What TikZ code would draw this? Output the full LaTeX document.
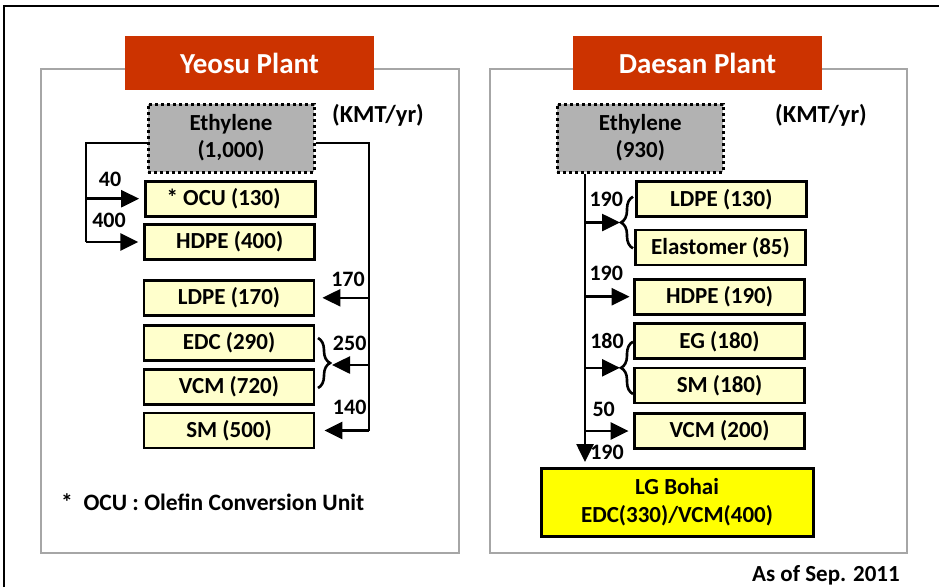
\documentclass[tikz,border=0pt]{standalone}
\usepackage{fontspec}
\setmainfont{Carlito}
\usetikzlibrary{arrows.meta,decorations.pathreplacing}
\definecolor{titlered}{HTML}{CC3300}
\definecolor{ethgray}{HTML}{B2B2B2}
\definecolor{prodyellow}{HTML}{FFFFCC}
\definecolor{bohaiyellow}{HTML}{FFFF00}
\definecolor{panelgray}{HTML}{A6A6A6}
\tikzset{
  flow/.style={line width=2.6pt},
  arr/.style={flow,-{Triangle[length=18pt,width=17pt]}},
  brc/.style={flow,decorate,decoration={brace,amplitude=12pt}},
  panel/.style={draw=panelgray,line width=1.5pt},
  plant/.style={fill=titlered,text=white,minimum width=249pt,minimum height=54pt,
    inner sep=0pt,font=\bfseries\fontsize{29}{34}\selectfont},
  feedbox/.style={draw,fill=ethgray,line width=3pt,dash pattern=on 3pt off 3pt,
    minimum width=166pt,minimum height=68pt,inner sep=0pt,align=center,
    font=\bfseries\fontsize{23}{27}\selectfont},
  prodbox/.style={draw,fill=prodyellow,line width=2.8pt,minimum width=170pt,
    minimum height=35pt,inner sep=0pt,font=\bfseries\fontsize{23}{27}\selectfont},
  bohaibox/.style={draw,fill=bohaiyellow,line width=3pt,minimum width=272pt,
    minimum height=68pt,inner sep=0pt,align=center,
    font=\bfseries\fontsize{23}{28}\selectfont},
  qty/.style={inner sep=0pt,font=\bfseries\fontsize{22}{26}\selectfont},
  note/.style={inner sep=0pt,font=\bfseries\fontsize{23.5}{28}\selectfont}
}
\begin{document}
\begin{tikzpicture}[x=1pt,y=-1pt]
  \useasboundingbox (0,0) rectangle (939,587);
  \draw[line width=2.5pt] (4,587) -- (4,6) -- (939,6);
  % panels
  \draw[panel] (41,69) rectangle (459,553);
  \draw[panel] (490,69) rectangle (907,553);
  \node[plant] (yTitle) at (249.5,63) {Yeosu Plant};
  \node[plant] (dTitle) at (697.5,63) {Daesan Plant};

  % Yeosu
  \node[feedbox] (yEth) at (231,138) {Ethylene\\(1,000)};
  \node[note,font=\bfseries\fontsize{24.5}{28}\selectfont] (yUnit) at (378,115) {(KMT/yr)};
  \node[prodbox] (yOCU) at (230.5,198.7) {* OCU (130)\hspace*{14pt}};
  \node[prodbox] (yHDPE) at (229.7,242) {HDPE (400)};
  \node[prodbox] (yLDPE) at (229,297.8) {LDPE (170)};
  \node[prodbox] (yEDC) at (229,342.8) {EDC (290)};
  \node[prodbox] (yVCM) at (229,387) {VCM (720)};
  \node[prodbox] (ySM) at (229,430.5) {SM (500)};
  \coordinate (yL) at (86,0);
  \coordinate (yR) at (369,0);
  \coordinate (yBr) at (332,365);
  \draw[flow] ([yshift=-5pt]yEth.west) -| (yHDPE.west -| yL);
  \draw[arr,shorten >=5pt] (yOCU.west -| yL) -- (yOCU.west);
  \draw[arr,shorten >=5pt] (yHDPE.west -| yL) -- (yHDPE.west);
  \draw[flow] ([yshift=-5pt]yEth.east) -| (ySM.east -| yR);
  \draw[arr,shorten >=7pt] (yLDPE.east -| yR) -- (yLDPE.east);
  \draw[brc] (318,338) -- (318,388);
  \draw[arr] (yBr -| yR) -- (yBr);
  \draw[arr,shorten >=9pt] (ySM.east -| yR) -- (ySM.east);
  \node[qty] (yq40) at (110,179) {40};
  \node[qty] (yq400) at (109,220.3) {400};
  \node[qty] (yq170) at (348,279) {170};
  \node[qty] (yq250) at (349.7,343.8) {250};
  \node[qty] (yq140) at (349.7,407) {140};
  \node[note,anchor=base west] (yNote) at (61,510) {*~~OCU : Olefin Conversion Unit};

  % Daesan
  \node[feedbox] (dEth) at (640.3,138) {Ethylene\\(930)};
  \node[note,font=\bfseries\fontsize{24.5}{28}\selectfont] (dUnit) at (821,115) {(KMT/yr)};
  \node[prodbox] (dLDPE) at (721.3,199.3) {LDPE (130)};
  \node[prodbox] (dElas) at (720.5,247.5) {Elastomer (85)};
  \node[prodbox] (dHDPE) at (719.5,296.7) {HDPE (190)};
  \node[prodbox] (dEG) at (719.5,341.3) {EG (180)};
  \node[prodbox] (dSM) at (719.5,385.5) {SM (180)};
  \node[prodbox] (dVCM) at (719.5,431) {VCM (200)};
  \node[bohaibox] (dBohai) at (677,502.5) {LG Bohai\\EDC(330)/VCM(400)};
  \coordinate (dB) at (585,0);
  \coordinate (dBr1) at (620,222.5);
  \coordinate (dBr2) at (620,367.8);
  \draw[arr,shorten >=5pt] (dEth.south -| dB) -- (dBohai.north -| dB);
  \draw[arr] (dBr1 -| dB) -- (dBr1);
  \draw[brc] (633,248.3) -- (633,196.7);
  \draw[arr,shorten >=3.5pt] (dHDPE.west -| dB) -- (dHDPE.west);
  \draw[arr] (dBr2 -| dB) -- (dBr2);
  \draw[brc] (633,394) -- (633,341.7);
  \draw[arr,shorten >=4.5pt] (dVCM.west -| dB) -- (dVCM.west);
  \node[qty] (dq190a) at (606.3,199) {190};
  \node[qty] (dq190b) at (606.3,273) {190};
  \node[qty] (dq180) at (607,341.2) {180};
  \node[qty] (dq50) at (603.7,409.5) {50};
  \node[qty] (dq190c) at (607,452) {190};
  \node[note,anchor=base east,font=\bfseries\fontsize{23}{28}\selectfont] (asof) at (900,581.7) {As of Sep. 2011};
\end{tikzpicture}
\end{document}
